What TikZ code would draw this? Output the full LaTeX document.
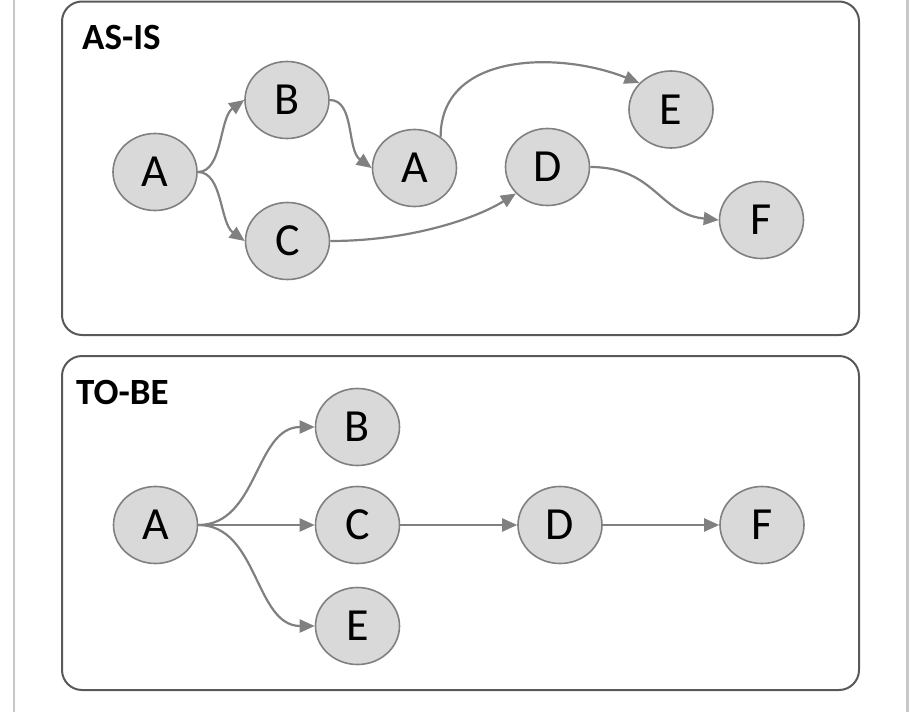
\documentclass[tikz,border=0pt]{standalone}
\usepackage{fontspec}
\setmainfont{Carlito}
\usetikzlibrary{shapes.geometric,arrows.meta}
\definecolor{edgegray}{HTML}{808080}
\definecolor{nodefill}{HTML}{D9D9D9}
\definecolor{boxgray}{HTML}{595959}
\definecolor{framegray}{HTML}{C8C8C8}
\tikzset{
  proc/.style={ellipse, draw=edgegray, fill=nodefill, line width=1.6pt,
    minimum width=84pt, minimum height=77pt, inner sep=0pt,
    font=\fontsize{46}{54}\selectfont},
  flow/.style={draw=edgegray, line width=2.2pt,
    -{Triangle[length=15pt,width=13pt]}},
  panel/.style={draw=boxgray, line width=2pt, rounded corners=20pt},
  paneltitle/.style={anchor=base west, inner sep=0pt,
    font=\fontsize{37}{44}\selectfont\bfseries},
}
\begin{document}
\begin{tikzpicture}[x=1pt,y=-1pt]
\useasboundingbox (0,0) rectangle (914,712);
% outer frame lines
\draw[framegray, line width=2.5pt] (14,0) -- (14,712);
\draw[framegray, line width=2.5pt] (907.5,0) -- (907.5,712);
% panels
\draw[panel] (62,1.5) rectangle (859,335);
\draw[panel] (62,356) rectangle (859,690);
\node[paneltitle] (t1) at (82,49) {AS-IS};
\node[paneltitle] (t2) at (76,404) {TO-BE};
% AS-IS nodes
\node[proc] (a1) at (155,172) {A};
\node[proc] (b1) at (287,100) {B};
\node[proc] (c1) at (287.5,241) {C};
\node[proc] (a2) at (414.5,168) {A};
\node[proc] (d1) at (547.5,167) {D};
\node[proc] (e1) at (671,109.5) {E};
\node[proc] (f1) at (761.5,220) {F};
% AS-IS edges
\draw[flow] (a1.east) .. controls +(25,0) and +(-25,18) .. (b1.west);
\draw[flow] (a1.east) .. controls +(25,0) and +(-25,-18) .. (c1.west);
\draw[flow] (b1.east) .. controls +(25,0) and +(-25,-18) .. (a2.west);
\draw[flow] (a2.50) .. controls +(0,-85) and +(-80,-32) .. (e1.140);
\draw[flow] (c1.east) .. controls +(80,0) and +(-40,25) .. (d1.220);
\draw[flow] (d1.east) .. controls +(65,0) and +(-60,-6) .. (f1.west);
% TO-BE nodes
\node[proc] (a3) at (155.5,525) {A};
\node[proc] (b3) at (357.5,427) {B};
\node[proc] (c3) at (357.5,525) {C};
\node[proc] (e3) at (357.5,626) {E};
\node[proc] (d3) at (560,525) {D};
\node[proc] (f3) at (762,525) {F};
% TO-BE edges
\draw[flow] (a3.east) .. controls +(60,0) and +(-60,0) .. (b3.west);
\draw[flow] (a3.east) -- (c3.west);
\draw[flow] (a3.east) .. controls +(60,0) and +(-60,0) .. (e3.west);
\draw[flow] (c3.east) -- (d3.west);
\draw[flow] (d3.east) -- (f3.west);
\end{tikzpicture}
\end{document}
